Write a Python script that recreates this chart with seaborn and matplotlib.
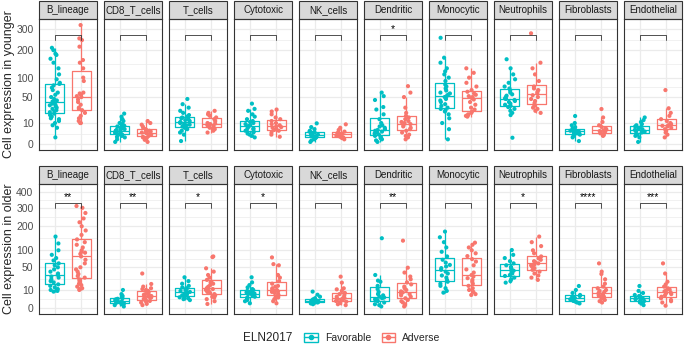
import numpy as np
import pandas as pd
import seaborn as sns
import matplotlib.pyplot as plt
from matplotlib.patches import Rectangle, Patch
from matplotlib.lines import Line2D

# Cell types (facets) and ELN2017 groups
cell_types = ['B_lineage', 'CD8_T_cells', 'T_cells', 'Cytotoxic', 'NK_cells',
              'Dendritic', 'Monocytic', 'Neutrophils', 'Fibroblasts', 'Endothelial']
groups = ['Favorable', 'Adverse']
colors = {'Favorable': '#00BFC4', 'Adverse': '#F8766D'}

# Younger patients - Favorable
young_fav = {
    'B_lineage': [1, 6, 8, 10, 12, 14, 15, 17, 19, 21, 23, 24, 26, 28, 30, 32, 34, 35, 37, 39,
                  41, 43, 46, 50, 55, 60, 66, 72, 78, 82, 85, 95, 110, 130, 150, 165, 180, 185, 200, 210],
    'CD8_T_cells': [0.1, 0.5, 1, 1.2, 1.5, 1.8, 2, 2.2, 2.5, 2.8, 3, 3.2, 3.5, 3.8, 4, 4.2, 4.5, 5,
                    5.5, 6, 6.5, 7, 7.5, 8, 9, 10, 12, 14, 17, 21],
    'T_cells': [0.2, 2, 3, 4, 5, 5.5, 6, 7, 8, 8.5, 9, 10, 10.5, 11, 12, 13, 14, 15, 16, 17, 19,
                22, 25, 30, 36, 46],
    'Cytotoxic': [1, 1.5, 2, 2.5, 3, 3.5, 4, 4.5, 5, 5.5, 6, 7, 7.5, 8, 9, 10, 11, 12, 14, 17,
                  20, 25, 28, 37],
    'NK_cells': [0.1, 0.3, 0.5, 0.7, 0.9, 1, 1.2, 1.4, 1.6, 1.8, 2, 2.2, 2.5, 2.8, 3, 3.5, 4, 5,
                 6.5, 9.7],
    'Dendritic': [0.1, 0.3, 0.5, 0.8, 1, 1.5, 2, 2.5, 3, 3.5, 4, 4.5, 5, 6, 7, 8, 10, 14, 20, 27,
                  31, 44, 52, 60],
    'Monocytic': [0.5, 5, 10, 15, 20, 24, 26, 28, 30, 33, 36, 40, 43, 46, 50, 52, 55, 58, 60, 65,
                  70, 75, 80, 90, 100, 110, 120, 130, 150, 169, 256],
    'Neutrophils': [0.9, 19, 22, 25, 28, 31, 33, 35, 37, 40, 42, 44, 46, 47, 50, 53, 56, 60, 65,
                    70, 75, 85, 95, 110, 130, 163],
    'Fibroblasts': [0.2, 1, 1.5, 2, 2.3, 2.6, 3, 3.3, 3.5, 3.8, 4, 4.5, 5, 5.5, 6.5, 8, 10, 17.8],
    'Endothelial': [0.1, 1, 1.5, 2, 2.5, 3, 3.5, 4, 4.5, 5, 5.5, 6, 7, 8, 9, 11, 13, 16],
}

# Younger patients - Adverse
young_adv = {
    'B_lineage': [10, 10, 12, 15, 18, 22, 26, 28, 30, 35, 40, 45, 50, 52, 55, 58, 60, 90, 100,
                  130, 150, 160, 215, 245, 253, 321],
    'CD8_T_cells': [0.1, 0.4, 0.8, 1, 1.2, 1.5, 1.8, 2, 2.3, 2.6, 3, 3.3, 3.6, 4, 4.5, 5, 6, 7,
                    8.5, 10, 12],
    'T_cells': [3, 4, 5, 5.5, 6, 7, 8, 8.5, 9, 9.5, 10, 12, 14, 16, 18, 20, 22, 25],
    'Cytotoxic': [1.2, 2, 3, 4, 4.5, 5, 6, 6.5, 7, 8, 9, 10, 12, 14, 16, 20, 24, 27],
    'NK_cells': [0.5, 0.8, 1, 1.2, 1.5, 1.8, 2, 2.3, 2.6, 3, 3.5, 4.5, 6, 8.8],
    'Dendritic': [0.5, 1, 1.5, 2, 3, 4, 5, 6, 7, 8, 9, 10, 11, 12, 14, 16, 18, 22, 30, 50, 60, 76],
    'Monocytic': [17, 18, 19, 20, 22, 24, 27, 30, 35, 40, 45, 48, 50, 52, 55, 58, 62, 66, 75, 85,
                  100, 115, 130],
    'Neutrophils': [22, 25, 28, 30, 33, 38, 42, 46, 50, 54, 58, 62, 66, 70, 75, 90, 110, 130,
                    150, 278],
    'Fibroblasts': [1.5, 1.8, 2.2, 2.6, 3, 3.5, 3.8, 4.2, 4.8, 5.5, 6.5, 8, 11, 16, 27.8],
    'Endothelial': [1, 2, 3, 4, 5, 6, 7, 7.5, 8, 9, 10, 12, 14, 18, 22, 29, 66],
}

# Older patients - Favorable
old_fav = {
    'B_lineage': [8.3, 9, 10, 11, 13, 15, 17, 20, 22, 25, 28, 30, 33, 36, 40, 45, 50, 55, 60, 68,
                  75, 85, 100, 125, 153],
    'CD8_T_cells': [0.1, 0.3, 0.5, 0.7, 0.9, 1.1, 1.3, 1.5, 1.7, 1.9, 2.1, 2.4, 2.7, 3, 3.5, 4.5,
                    6, 10],
    'T_cells': [2, 2.5, 3, 3.6, 4, 5, 5.5, 6, 6.5, 7, 8, 9, 10, 11, 12, 13, 15, 18, 22, 28.6],
    'Cytotoxic': [0.75, 1.5, 2, 2.5, 3, 3.5, 4, 4.5, 5, 5.5, 6, 6.5, 7, 7.5, 8, 9, 10, 11, 13, 16,
                  20, 28.6],
    'NK_cells': [0.5, 0.7, 0.9, 1, 1.2, 1.3, 1.5, 1.7, 1.9, 2.1, 2.4, 3, 4, 5.5, 8.3],
    'Dendritic': [0.1, 0.3, 0.5, 1, 1.5, 2, 2.4, 3, 3.5, 4, 5, 6, 8, 11, 15, 21, 22.8, 33, 146],
    'Monocytic': [7.3, 9, 12, 15, 18, 21, 24, 28, 32, 36, 40, 44, 48, 52, 56, 62, 70, 80, 95, 110,
                  130, 150, 175],
    'Neutrophils': [19.6, 22, 25, 28, 31, 33, 36, 39, 42, 45, 48, 51, 55, 60, 66, 75, 85, 101],
    'Fibroblasts': [0.7, 1, 1.3, 1.6, 2, 2.4, 2.8, 3.2, 3.8, 4.5, 5.3, 7, 10, 14.8],
    'Endothelial': [0.3, 0.6, 1, 1.3, 1.6, 2, 2.4, 2.8, 3, 3.5, 4, 4.5, 5.3, 7, 9, 14.8],
}

# Older patients - Adverse
old_adv = {
    'B_lineage': [10, 11, 12, 14, 16, 18, 22, 25, 28, 31, 35, 40, 45, 50, 60, 70, 80, 88, 92, 95,
                  100, 110, 120, 130, 141, 160, 180, 200, 220, 240, 270, 300, 311],
    'CD8_T_cells': [0.3, 0.6, 1, 1.3, 1.6, 2, 2.3, 2.7, 3, 3.3, 3.6, 4, 4.5, 5, 5.5, 6, 7, 8, 9,
                    10, 11, 12, 14, 17.6, 36],
    'T_cells': [0.56, 1.5, 2.5, 3.5, 4, 5, 6, 7, 8, 9, 10, 11, 12, 13, 14, 16, 18, 20, 21, 24, 28,
                33, 40, 47.6, 78, 80],
    'Cytotoxic': [0.75, 1.5, 2.5, 3.5, 4, 5, 6, 7, 8, 8.5, 9, 10, 11, 12, 14, 15, 18, 22, 28, 33,
                  55, 58, 77],
    'NK_cells': [0.3, 0.5, 0.8, 1, 1.3, 1.6, 2, 2.2, 2.5, 2.8, 3.2, 3.6, 4, 5, 6, 7, 9, 10.7,
                 11.9, 19.6, 29.8],
    'Dendritic': [0.1, 0.5, 1, 1.5, 2.1, 3, 4, 5, 6, 6.7, 7.5, 8.5, 10, 12, 14, 17, 20, 25, 30,
                  38, 49, 136],
    'Monocytic': [5.3, 6, 8, 10, 12, 15, 18, 21, 24, 27, 30, 33, 38, 45, 55, 65, 72, 81, 90, 100,
                  110, 120, 128],
    'Neutrophils': [24, 28, 32, 36, 40, 44, 48, 52, 55, 57, 60, 63, 66, 70, 74, 80, 90, 100, 115,
                    130, 153],
    'Fibroblasts': [1, 1.5, 2.1, 2.8, 3.5, 4, 4.5, 5, 5.3, 6, 7, 8, 9, 10, 11.9, 14, 18, 25, 35,
                    40, 60],
    'Endothelial': [0.2, 1, 1.5, 2.1, 3, 4, 5, 6, 6.7, 7.5, 8.5, 9.5, 10.5, 11.9, 14, 17, 21, 36, 60],
}

# Significance labels (Wilcoxon) per facet
young_signif = ['', '', '', '', '', '*', '', '', '', '']
old_signif = ['**', '**', '*', '*', '', '**', '', '*', '****', '***']

young_ticks = [0, 10, 50, 100, 200, 300]
old_ticks = [0, 10, 50, 100, 200, 300, 400]

# Build long table
rows = []
for age, fav, adv in [('younger', young_fav, young_adv), ('older', old_fav, old_adv)]:
    for cell in cell_types:
        for v in fav[cell]:
            rows.append((age, cell, 'Favorable', v))
        for v in adv[cell]:
            rows.append((age, cell, 'Adverse', v))
df = pd.DataFrame(rows, columns=['age', 'cell', 'ELN2017', 'value'])
# sqrt scale like scale_y_sqrt (stats computed on transformed values)
df['sqrt_value'] = np.sqrt(df['value'])

sns.set_style('white')
plt.rcParams['font.family'] = ['Liberation Sans', 'DejaVu Sans']
np.random.seed(3)

W, H = 685, 349
fig = plt.figure(figsize=(W / 100, H / 100), dpi=100)

row_setup = [
    # age, panel top px, panel bottom px, ylim (sqrt units), ticks, bracket low/high, signif, label
    ('younger', 19, 150, (-0.9, 18.83), young_ticks, (245, 270), young_signif, 'Cell expression in younger'),
    ('older', 184, 314, (-0.98, 21.43), old_ticks, (300, 328), old_signif, 'Cell expression in older'),
]

for age, top_px, bot_px, ylim, ticks, bracket, signif, ylabel in row_setup:
    panel_h = bot_px - top_px
    strip_h = 18 / panel_h
    sqrt_ticks = np.sqrt(ticks)
    minor = [(a + b) / 2 for a, b in zip(sqrt_ticks[:-1], sqrt_ticks[1:])]
    for i, cell in enumerate(cell_types):
        left_px = 39 + 65 * i
        ax = fig.add_axes([left_px / W, 1 - bot_px / H, 58 / W, panel_h / H])
        sub = df[(df['age'] == age) & (df['cell'] == cell)]

        sns.boxplot(data=sub, x='ELN2017', y='sqrt_value', hue='ELN2017', order=groups,
                    hue_order=groups, palette=colors, fill=False, width=0.72,
                    showfliers=False, showcaps=False, linewidth=0.9, legend=False, ax=ax)
        sns.stripplot(data=sub, x='ELN2017', y='sqrt_value', hue='ELN2017', order=groups,
                      hue_order=groups, palette=colors, jitter=0.2, size=3.0, linewidth=0,
                      legend=False, ax=ax, zorder=3)

        # comparison bracket + stars
        b_lo, b_hi = np.sqrt(bracket[0]), np.sqrt(bracket[1])
        ax.plot([0, 0, 1, 1], [b_lo, b_hi, b_hi, b_lo], color='#333333', lw=0.6, zorder=4)
        if signif[i]:
            ax.annotate(signif[i], xy=(0.5, b_hi), xytext=(0, 0.5), textcoords='offset points',
                        ha='center', va='bottom', fontsize=7.5, color='black')

        ax.set_xlim(-0.6, 1.6)
        ax.set_ylim(*ylim)
        ax.set_xticks([0, 1])
        ax.set_xticklabels([])
        ax.set_yticks(sqrt_ticks)
        ax.set_yticks(minor, minor=True)
        ax.set_axisbelow(True)
        ax.grid(True, which='major', color='#EBEBEB', lw=0.9)
        ax.grid(True, which='minor', axis='y', color='#EBEBEB', lw=0.5)
        ax.set_xlabel('')
        ax.set_ylabel('')
        ax.tick_params(axis='x', length=0)
        ax.tick_params(axis='y', which='minor', length=0)
        if i == 0:
            ax.set_yticklabels([str(t) for t in ticks], fontsize=7.5, color='#4D4D4D')
            ax.tick_params(axis='y', which='major', length=2.5, width=0.6, color='#333333', pad=1.5)
        else:
            ax.set_yticklabels([])
            ax.tick_params(axis='y', which='major', length=0)
        for s in ax.spines.values():
            s.set_color('#333333')
            s.set_linewidth(0.8)

        # facet strip
        ax.add_patch(Rectangle((0, 1), 1, strip_h, transform=ax.transAxes, facecolor='#D9D9D9',
                               edgecolor='#333333', lw=0.8, clip_on=False))
        ax.text(0.5, 1 + strip_h / 2, cell, transform=ax.transAxes, ha='center', va='center',
                fontsize=7, color='#1A1A1A')

    fig.text(9 / W, 1 - (top_px + bot_px) / 2 / H, ylabel, rotation=90, ha='center',
             va='center', fontsize=9)

# Legend at bottom
handles = []
for g in groups:
    c = colors[g]
    handles.append((Patch(facecolor='white', edgecolor=c, lw=1.0),
                    Line2D([], [], color=c, marker='o', markersize=3, lw=1.0)))
fig.text(243 / W, 1 - 338 / H, 'ELN2017', ha='left', va='center', fontsize=8.5)
fig.legend(handles, groups, loc='center left', bbox_to_anchor=(304 / W, 1 - 338 / H), ncol=2,
           frameon=False, fontsize=7.5, handlelength=1.3, handleheight=1.0, columnspacing=1.0,
           handletextpad=0.7, borderpad=0, borderaxespad=0)

fig.savefig('out.png', dpi=100)
